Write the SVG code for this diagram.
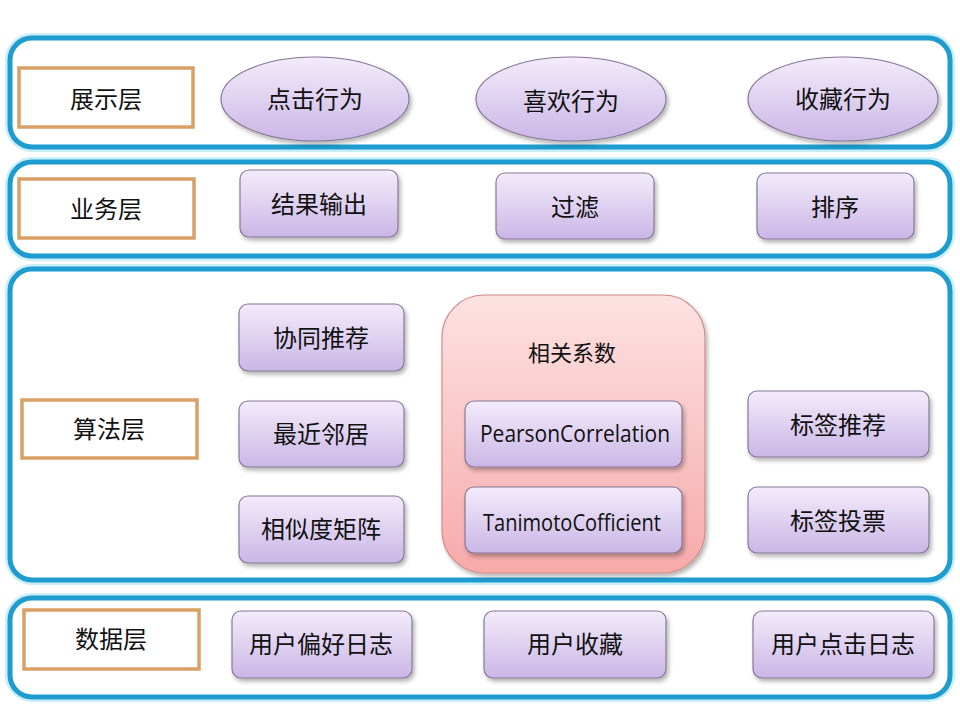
<svg xmlns="http://www.w3.org/2000/svg" width="960" height="720" viewBox="0 0 960 720">
<defs>
<linearGradient id="purple" x1="0" y1="0" x2="0" y2="1">
<stop offset="0" stop-color="#f3ecfb"/>
<stop offset="1" stop-color="#cbb6e6"/>
</linearGradient>
<linearGradient id="pink" x1="0" y1="0" x2="0" y2="1">
<stop offset="0" stop-color="#fde2e2"/>
<stop offset="1" stop-color="#f7aaaa"/>
</linearGradient>
<filter id="shadow" x="-10%" y="-10%" width="125%" height="135%">
<feDropShadow dx="2" dy="3" stdDeviation="2" flood-color="#000" flood-opacity="0.3"/>
</filter>
</defs>
<style>
.layer{fill:#fff;stroke:#1e9bcf;stroke-width:5}
.glow{fill:none;stroke:#c9eef8;stroke-width:10}
.label{fill:#fff;stroke:#d9a066;stroke-width:3.5}
.node{fill:url(#purple);stroke:#867896;stroke-width:1.2;filter:url(#shadow)}
.corr{fill:url(#pink);stroke:#d08c8c;stroke-width:1.2;filter:url(#shadow)}
.t{font-family:"Noto Sans CJK SC","Noto Sans",sans-serif;font-size:24px;fill:#111;text-anchor:middle;dominant-baseline:central}
.e{font-family:"Open Sans","Noto Sans",sans-serif;font-size:23px;fill:#111;text-anchor:middle;dominant-baseline:central}
</style>
<rect width="960" height="720" fill="#fff"/>

<!-- layer containers -->
<g id="layer-display">
<rect class="glow" x="10" y="38" width="940" height="109" rx="22"/>
<rect class="layer" x="10" y="38" width="940" height="109" rx="22"/>
</g>
<g id="layer-business">
<rect class="glow" x="10" y="162" width="940" height="94" rx="22"/>
<rect class="layer" x="10" y="162" width="940" height="94" rx="22"/>
</g>
<g id="layer-algorithm">
<rect class="glow" x="10" y="269" width="940" height="311" rx="22"/>
<rect class="layer" x="10" y="269" width="940" height="311" rx="22"/>
</g>
<g id="layer-data">
<rect class="glow" x="10" y="598" width="940" height="99" rx="22"/>
<rect class="layer" x="10" y="598" width="940" height="99" rx="22"/>
</g>

<!-- layer labels -->
<g id="label-display"><rect class="label" x="19" y="68" width="174" height="59"/><text class="t" x="106" y="97">展示层</text></g>
<g id="label-business"><rect class="label" x="19" y="179" width="175" height="59"/><text class="t" x="106" y="207">业务层</text></g>
<g id="label-algorithm"><rect class="label" x="22" y="400" width="175" height="58"/><text class="t" x="109" y="427">算法层</text></g>
<g id="label-data"><rect class="label" x="24" y="610" width="175" height="59"/><text class="t" x="111" y="637">数据层</text></g>

<!-- display layer -->
<g id="click"><ellipse class="node" cx="315" cy="99" rx="94" ry="42"/><text class="t" x="315" y="97">点击行为</text></g>
<g id="like"><ellipse class="node" cx="571" cy="99" rx="95" ry="42"/><text class="t" x="571" y="99">喜欢行为</text></g>
<g id="favorite"><ellipse class="node" cx="843" cy="99" rx="95" ry="42"/><text class="t" x="843" y="97">收藏行为</text></g>

<!-- business layer -->
<g id="output"><rect class="node" x="240" y="170" width="158" height="67" rx="9"/><text class="t" x="319" y="202">结果输出</text></g>
<g id="filter"><rect class="node" x="496" y="173" width="158" height="66" rx="9"/><text class="t" x="575" y="205">过滤</text></g>
<g id="sort"><rect class="node" x="757" y="173" width="157" height="66" rx="9"/><text class="t" x="835" y="205">排序</text></g>

<!-- algorithm layer -->
<g id="cf"><rect class="node" x="239" y="304" width="165" height="67" rx="9"/><text class="t" x="321" y="336">协同推荐</text></g>
<g id="knn"><rect class="node" x="239" y="401" width="165" height="66" rx="9"/><text class="t" x="321" y="432">最近邻居</text></g>
<g id="simmatrix"><rect class="node" x="239" y="496" width="165" height="67" rx="9"/><text class="t" x="321" y="527">相似度矩阵</text></g>

<g id="correlation">
<rect class="corr" x="442" y="295" width="263" height="278" rx="42"/>
<text class="t" x="572" y="351" style="font-size:22px">相关系数</text>
</g>
<g id="pearson"><rect class="node" x="465" y="401" width="217" height="66" rx="9"/><text class="e" x="575" y="433" textLength="190" lengthAdjust="spacingAndGlyphs">PearsonCorrelation</text></g>
<g id="tanimoto"><rect class="node" x="465" y="487" width="217" height="66" rx="9"/><text class="e" x="572" y="522" textLength="178" lengthAdjust="spacingAndGlyphs">TanimotoCofficient</text></g>

<g id="tagrec"><rect class="node" x="748" y="391" width="181" height="66" rx="9"/><text class="t" x="838" y="423">标签推荐</text></g>
<g id="tagvote"><rect class="node" x="748" y="487" width="181" height="66" rx="9"/><text class="t" x="838" y="519">标签投票</text></g>

<!-- data layer -->
<g id="prefs"><rect class="node" x="232" y="611" width="180" height="67" rx="9"/><text class="t" x="321" y="642">用户偏好日志</text></g>
<g id="favs"><rect class="node" x="484" y="611" width="182" height="67" rx="9"/><text class="t" x="575" y="642">用户收藏</text></g>
<g id="clicklog"><rect class="node" x="753" y="611" width="181" height="67" rx="9"/><text class="t" x="843" y="642">用户点击日志</text></g>
</svg>
